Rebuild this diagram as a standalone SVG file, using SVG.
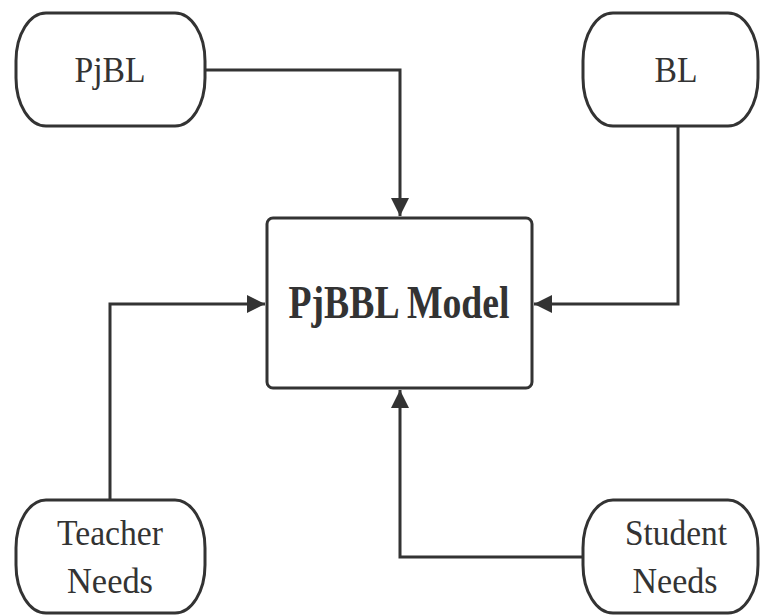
<svg xmlns="http://www.w3.org/2000/svg" width="762" height="616" viewBox="0 0 762 616">
<style>
.term{fill:#fff;stroke:#333;stroke-width:3}
.box{fill:#fff;stroke:#333;stroke-width:3}
.lbl{font-family:"Liberation Serif","Times New Roman",serif;font-size:35px;fill:#333;text-anchor:middle}
.big{font-family:"Liberation Serif","Times New Roman",serif;font-size:46px;font-weight:bold;fill:#333;text-anchor:middle}
.conn{fill:none;stroke:#333;stroke-width:3}
</style>
<defs>
<marker id="arr" viewBox="0 0 10 10" refX="10" refY="5" markerWidth="9.5" markerHeight="6" markerUnits="strokeWidth" orient="auto">
<path d="M0,0 L10,5 L0,10 z" fill="#333"/>
</marker>
</defs>
<g id="connectors">
<path class="conn" d="M205,70 H400 V216" marker-end="url(#arr)"/>
<path class="conn" d="M678,126 V304 H534" marker-end="url(#arr)"/>
<path class="conn" d="M110,500 V304 H265" marker-end="url(#arr)"/>
<path class="conn" d="M583,557 H400 V390" marker-end="url(#arr)"/>
</g>
<g id="pjbl">
<rect class="term" x="16" y="13" width="189" height="113" rx="30" ry="48"/>
<text class="lbl" x="110" y="82" textLength="71" lengthAdjust="spacingAndGlyphs">PjBL</text>
</g>
<g id="bl">
<rect class="term" x="583" y="13" width="175" height="113" rx="30" ry="48"/>
<text class="lbl" x="676" y="82" textLength="43" lengthAdjust="spacingAndGlyphs">BL</text>
</g>
<g id="model">
<rect class="box" x="267" y="218" width="265" height="170" rx="6"/>
<text class="big" x="399" y="318" textLength="221" lengthAdjust="spacingAndGlyphs">PjBBL Model</text>
</g>
<g id="teacher">
<rect class="term" x="16" y="500" width="189" height="113" rx="30" ry="48"/>
<text class="lbl" x="110" y="545" textLength="106" lengthAdjust="spacingAndGlyphs">Teacher</text>
<text class="lbl" x="110" y="593" textLength="86" lengthAdjust="spacingAndGlyphs">Needs</text>
</g>
<g id="student">
<rect class="term" x="583" y="500" width="175" height="113" rx="30" ry="48"/>
<text class="lbl" x="676" y="545" textLength="102" lengthAdjust="spacingAndGlyphs">Student</text>
<text class="lbl" x="675" y="593" textLength="85" lengthAdjust="spacingAndGlyphs">Needs</text>
</g>
</svg>
